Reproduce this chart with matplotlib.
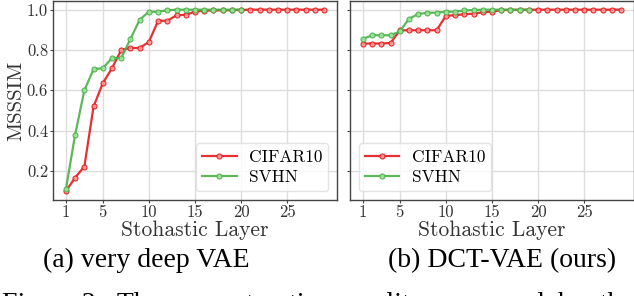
import matplotlib
matplotlib.use("Agg")
import matplotlib.pyplot as plt
import numpy as np

layers_a = list(range(1, 30))
cifar_a = [0.10, 0.167, 0.222, 0.52, 0.635, 0.71, 0.80, 0.81, 0.81, 0.84,
           0.945, 0.945, 0.972, 0.975, 0.99, 0.995, 0.996, 0.997, 0.998, 0.999,
           1.0, 1.0, 1.0, 1.0, 1.0, 1.0, 1.0, 1.0, 1.0]
svhn_layers_a = list(range(1, 21))
svhn_a = [0.11, 0.38, 0.60, 0.705, 0.71, 0.76, 0.76, 0.855, 0.95, 0.99,
          0.99, 0.997, 1.0, 1.0, 1.0, 1.0, 1.0, 1.0, 1.0, 1.0]

layers_b = list(range(1, 30))
cifar_b = [0.832, 0.832, 0.832, 0.835, 0.897, 0.898, 0.898, 0.898, 0.898, 0.97,
           0.972, 0.978, 0.98, 0.987, 0.99, 0.998, 0.999, 0.999, 1.0, 1.0,
           1.0, 1.0, 1.0, 1.0, 1.0, 1.0, 1.0, 1.0, 1.0]
svhn_layers_b = list(range(1, 20))
svhn_b = [0.855, 0.873, 0.873, 0.873, 0.892, 0.955, 0.978, 0.985, 0.985, 0.99,
          0.99, 0.996, 0.998, 1.0, 1.0, 1.0, 1.0, 1.0, 1.0]

xticks = [1, 5, 10, 15, 20, 25]
yticks = [0.2, 0.4, 0.6, 0.8, 1.0]
captions = ["(a) very deep VAE", "(b) DCT-VAE (ours)"]
figure_caption = "Figure 3:  The  reconstruction  quality  measured  by  the"

plt.rcParams['font.family'] = ['cmr10']
plt.rcParams['mathtext.fontset'] = 'cm'
plt.rcParams['axes.formatter.use_mathtext'] = True

RED = '#e41a1c'
GREEN = '#4daf4a'

fig = plt.figure(figsize=(6.34, 2.96), dpi=100)
W, H = 634, 296
axA = fig.add_axes([53 / W, 1 - 200 / H, (337 - 53) / W, 199 / H])
axB = fig.add_axes([350 / W, 1 - 200 / H, (634 - 350) / W, 199 / H], sharey=axA)

def draw(ax, xc, yc, xs, ys, legloc):
    ax.plot(xc, yc, color=RED, lw=1.6, marker='o', ms=3.6, mfc=(1, 0.6, 0.6, 0.6),
            mec=RED, mew=0.8, label='CIFAR10', alpha=0.9)
    ax.plot(xs, ys, color=GREEN, lw=1.6, marker='o', ms=3.6, mfc=(0.6, 0.9, 0.6, 0.6),
            mec=GREEN, mew=0.8, label='SVHN', alpha=0.9)
    ax.grid(True, color='#dddddd', lw=1.0)
    ax.set_axisbelow(True)
    ax.set_xticks(xticks)
    ax.set_xticklabels([str(t) for t in xticks])
    ax.set_yticks(yticks)
    ax.set_xlim(-0.4, 30.4)
    ax.set_ylim(0.056, 1.043)
    for s in ax.spines.values():
        s.set_color('#444444')
        s.set_linewidth(1.0)
    ax.tick_params(labelsize=12, colors='#444444', labelcolor='#333333', length=2, pad=1.5)
    ax.set_xlabel('Stohastic Layer', fontsize=15.5, color='#333333', labelpad=0)
    leg = ax.legend(loc=legloc, fontsize=12.5, frameon=True, fancybox=True,
                    handlelength=2.0, handletextpad=0.7, borderpad=0.35, labelspacing=0.3,
                    borderaxespad=0.5)
    leg.get_frame().set_edgecolor('#dddddd')

draw(axA, layers_a, cifar_a, svhn_layers_a, svhn_a, 'lower right')
draw(axB, layers_b, cifar_b, svhn_layers_b, svhn_b, 'lower left')
axA.set_yticklabels(['0.2', '0.4', '0.6', '0.8', '1.0'])
axA.set_ylabel('MSSSIM', fontsize=15, color='#333333', labelpad=1)
plt.setp(axB.get_yticklabels(), visible=False)

fig.text(146 / W, 1 - 267 / H, captions[0], fontsize=20, family='Liberation Serif',
         ha='center', va='baseline')
fig.text(502 / W, 1 - 267 / H, captions[1], fontsize=20, family='Liberation Serif',
         ha='center', va='baseline')
fig.text(2 / W, 1 - 311 / H, figure_caption, fontsize=20,
         family='Liberation Serif', ha='left', va='baseline')

fig.savefig('out.png', dpi=100)
